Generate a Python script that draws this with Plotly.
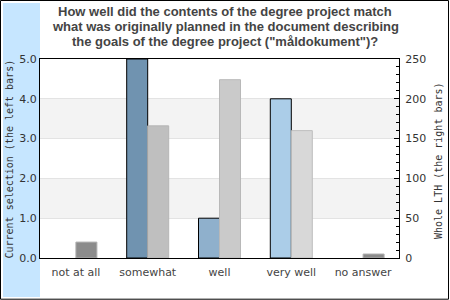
import plotly.graph_objects as go

categories = ["not at all", "somewhat", "well", "very well", "no answer"]
current_selection = [0, 5, 1, 4, 0]
whole_lth = [20, 166, 224, 160, 5]

left_colors = ["#7093b0", "#7093b0", "#8fb0cc", "#abcde8", "#7093b0"]
right_colors = ["#8c8c8c", "#bfbfbf", "#cacaca", "#d8d8d8", "#8c8c8c"]
right_line_colors = ["#b0b0b0", "#b5b5b5", "#b8b8b8", "#bdbdbd", "#b0b0b0"]

title_lines = [
    "How well did the contents of the degree project match",
    "what was originally planned in the document describing",
    "the goals of the degree project (\"måldokument\")?",
]
left_axis_title = "Current selection (the left bars)"
right_axis_title = "Whole LTH (the right bars)"

W, H = 450, 300
L, R, T, B = 40, 51, 59, 42
pw, ph = W - L - R, H - T - B


def px_x(p):
    return (p - L) / pw


def px_y(p):
    return (H - B - p) / ph


bw = 0.2925
left_line_widths = [1 if v > 0 else 0 for v in current_selection]
right_line_widths = [1 if v > 0 else 0 for v in whole_lth]

fig = go.Figure()
fig.add_trace(go.Bar(
    x=categories, y=current_selection, yaxis="y",
    width=bw, offset=-bw,
    marker=dict(color=left_colors, line=dict(color="black", width=left_line_widths)),
    showlegend=False, hoverinfo="skip",
))
fig.add_trace(go.Bar(
    x=categories, y=whole_lth, yaxis="y2",
    width=bw, offset=0,
    marker=dict(color=right_colors, line=dict(color=right_line_colors, width=right_line_widths)),
    showlegend=False, hoverinfo="skip",
))

shapes = [
    dict(type="rect", xref="paper", yref="paper",
         x0=px_x(0.5), x1=px_x(448.5), y0=px_y(0.5), y1=px_y(299.2),
         line=dict(color="black", width=1), fillcolor="rgba(0,0,0,0)", layer="below"),
    dict(type="rect", xref="paper", yref="paper",
         x0=px_x(3), x1=px_x(40), y0=px_y(3), y1=px_y(297),
         line=dict(width=0), fillcolor="#c6e6ff", layer="below"),
    dict(type="rect", xref="paper", yref="y", x0=0, x1=1, y0=1, y1=2,
         line=dict(width=0), fillcolor="#f3f3f3", layer="below"),
    dict(type="rect", xref="paper", yref="y", x0=0, x1=1, y0=3, y1=4,
         line=dict(width=0), fillcolor="#f3f3f3", layer="below"),
]

annotations = []
for i, line in enumerate(title_lines):
    annotations.append(dict(
        text=line, xref="paper", yref="paper",
        x=px_x(225), y=px_y(12 + 14.5 * i), xanchor="center", yanchor="middle",
        showarrow=False,
        font=dict(family="Liberation Sans", size=13, color="#444444", weight="bold"),
    ))
annotations.append(dict(
    text=left_axis_title, xref="paper", yref="paper",
    x=px_x(8.5), y=px_y(159), xanchor="center", yanchor="middle",
    textangle=-90, showarrow=False,
    font=dict(family="DejaVu Sans Mono", size=10, color="#333333"),
))
annotations.append(dict(
    text=right_axis_title, xref="paper", yref="paper",
    x=px_x(438), y=px_y(160), xanchor="center", yanchor="middle",
    textangle=-90, showarrow=False,
    font=dict(family="DejaVu Sans Mono", size=10, color="#333333"),
))

fig.update_layout(
    width=W, height=H,
    margin=dict(l=L, r=R, t=T, b=B, pad=0),
    paper_bgcolor="white", plot_bgcolor="white",
    barmode="overlay",
    shapes=shapes, annotations=annotations,
    xaxis=dict(
        type="category", range=[-0.5, 4.5],
        showline=True, linecolor="black", linewidth=1, mirror=True,
        ticks="", showgrid=False,
        tickfont=dict(family="DejaVu Sans", size=11, color="#444444"),
        ticklabelstandoff=4,
    ),
    yaxis=dict(
        range=[0, 5], dtick=1, tickformat=".1f",
        showline=True, linecolor="black", linewidth=1, mirror=True,
        ticks="", showgrid=True, gridcolor="#e3e3e3", gridwidth=1,
        zeroline=False,
        tickfont=dict(family="DejaVu Sans", size=11, color="#333333"),
    ),
    yaxis2=dict(
        overlaying="y", side="right",
        range=[0, 250], dtick=50,
        showline=True, linecolor="black", linewidth=1,
        ticks="inside", ticklen=5, tickcolor="black", tickwidth=1,
        minor=dict(dtick=10, ticks="inside", ticklen=3, tickcolor="black", showgrid=False),
        showgrid=False, zeroline=False,
        tickfont=dict(family="DejaVu Sans", size=11, color="#333333"),
        ticklabelstandoff=3,
    ),
)

fig.write_html("out.html")
